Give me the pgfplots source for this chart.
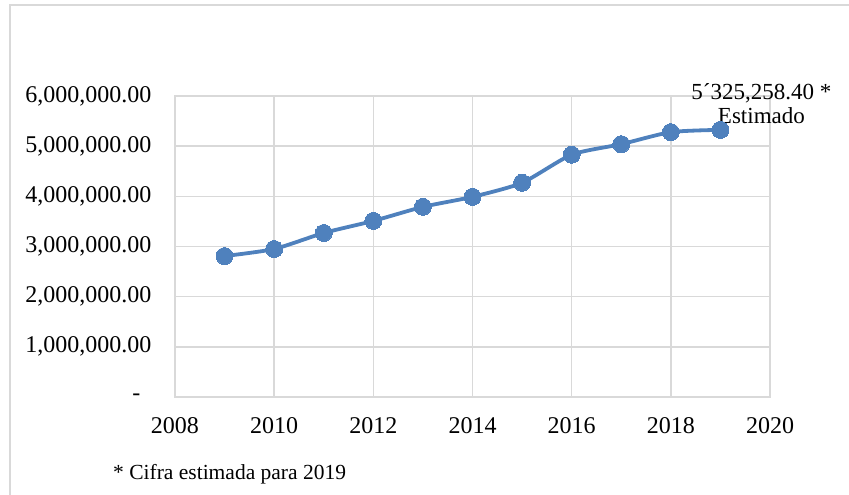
\documentclass[border=0pt]{standalone}
\usepackage{fontspec}
\setmainfont{Liberation Serif}
\usepackage{pgfplots}
\pgfplotsset{compat=1.18}
\definecolor{serie}{RGB}{79,129,189}
\definecolor{gridc}{RGB}{217,217,217}
\begin{document}
\begin{tikzpicture}[font=\fontsize{24bp}{28bp}\selectfont]
\useasboundingbox (-175bp,-98bp) rectangle (674bp,397bp);
\draw[gridc, line width=1.5bp] (-165bp,-98bp) -- (-165bp,392bp) -- (674bp,392bp);
\begin{axis}[
  at={(0,0)}, anchor=south west,
  scale only axis, width=595bp, height=301bp,
  xmin=2008, xmax=2020, ymin=0, ymax=6000000,
  scaled y ticks=false, scaled x ticks=false,
  grid=major, major grid style={gridc, line width=1.4bp},
  axis line style={gridc, line width=1.4bp},
  tick style={draw=none},
  xtick={2008,2010,2012,2014,2016,2018,2020},
  xticklabels={2008,2010,2012,2014,2016,2018,2020},
  ytick={0,1000000,2000000,3000000,4000000,5000000,6000000},
  yticklabels={{-\rule{11bp}{0pt}},{1,000,000.00},{2,000,000.00},{3,000,000.00},{4,000,000.00},{5,000,000.00},{6,000,000.00}},
  xticklabel style={yshift=-17bp},
  yticklabel style={xshift=-20bp},
  clip=false,
]
\addplot[serie, line width=3.8bp, smooth, tension=0.4, mark=*, mark size=8.5bp,
  mark options={fill=serie, draw=serie, line width=0pt}] coordinates {
  (2009,2810000) (2010,2950000) (2011,3270000) (2012,3510000) (2013,3790000)
  (2014,3990000) (2015,4270000) (2016,4830000) (2017,5040000) (2018,5280000)
  (2019,5325258.40)
};
\node[anchor=south, align=center, inner sep=0pt, xshift=41bp, yshift=6bp,
  font=\fontsize{23bp}{23.5bp}\selectfont] at (axis cs:2019,5325258.40) {5´325,258.40 *\\Estimado};
\end{axis}
\node[anchor=base west, inner sep=0pt, font=\fontsize{21.5bp}{25bp}\selectfont] at (-62bp,-82bp) {* Cifra estimada para 2019};
\end{tikzpicture}
\end{document}
